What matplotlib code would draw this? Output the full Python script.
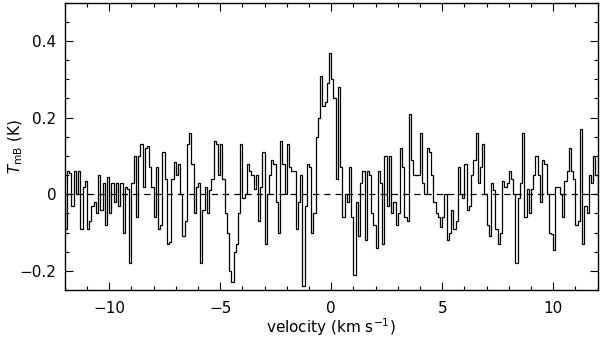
import numpy as np
import matplotlib
matplotlib.use("Agg")
import matplotlib.pyplot as plt
from matplotlib.ticker import MultipleLocator, FuncFormatter

plt.rcParams['font.family'] = ['DejaVu Sans']
plt.rcParams['mathtext.fontset'] = 'dejavusans'

# channel grid (km/s)
v_start = -12.0
v_stop = 12.0
n_chan = 240

# brightness temperature (K), per channel, in four velocity blocks
tmb_block1 = [  # -12.0 .. -6.1
    -0.09, 0.06, 0.055, -0.03, 0.06, 0.0, 0.06, -0.09, 0.02, 0.035,
    -0.09, -0.07, -0.03, -0.02, -0.05, 0.05, -0.04, 0.03, -0.08, 0.045,
    -0.05, 0.03, -0.02, 0.03, -0.03, 0.03, -0.1, 0.02, 0.015, -0.18,
    0.03, 0.10, -0.06, 0.10, 0.13, 0.02, 0.12, 0.125, 0.07, 0.02,
    -0.06, 0.07, -0.09, -0.08, 0.11, 0.04, -0.13, -0.125, 0.04, 0.085,
    0.05, 0.08, 0.0, -0.11, -0.07, 0.13, 0.16, 0.08, -0.05, 0.02,
]
tmb_block2 = [  # -6.0 .. -0.1
    0.03, -0.18, -0.04, 0.02, -0.05, 0.01, 0.04, 0.14, 0.13, 0.05,
    0.13, 0.04, -0.05, -0.10, -0.20, -0.23, -0.15, -0.13, -0.05, 0.13,
    -0.01, 0.0, 0.08, 0.06, 0.05, 0.015, 0.05, -0.07, 0.02, 0.11,
    -0.13, 0.0, 0.05, 0.09, 0.08, -0.02, -0.1, 0.14, 0.08, 0.0,
    0.13, 0.07, 0.06, 0.06, -0.09, -0.02, 0.05, -0.24, -0.03, 0.08,
    0.07, -0.1, -0.05, 0.15, 0.2, 0.31, 0.23, 0.24, 0.29, 0.37,
]
tmb_block3 = [  # 0.0 .. 5.9
    0.30, 0.25, 0.04, 0.28, 0.07, -0.06, 0.0, -0.02, 0.07, -0.06,
    -0.21, -0.02, -0.11, 0.03, 0.06, -0.12, 0.06, 0.05, -0.05, -0.08,
    -0.14, 0.06, 0.03, -0.13, 0.1, -0.03, 0.1, -0.05, -0.02, -0.08,
    -0.05, 0.12, 0.07, -0.06, -0.07, 0.21, 0.09, 0.05, 0.05, 0.05,
    0.16, 0.03, 0.0, 0.12, 0.11, 0.05, -0.02, -0.05, -0.06, -0.085,
    -0.06, 0.0, -0.12, -0.1, -0.04, -0.09, -0.07, 0.07, 0.0, -0.01,
]
tmb_block4 = [  # 6.0 .. 11.9
    0.08, -0.04, -0.03, 0.05, 0.09, 0.16, 0.03, 0.07, 0.13, 0.0,
    -0.08, -0.11, 0.03, 0.01, -0.09, -0.13, -0.1, 0.035, 0.02, 0.03,
    0.06, 0.04, 0.0, -0.18, -0.01, 0.03, 0.16, -0.06, 0.015, -0.05,
    0.015, 0.05, 0.1, 0.05, -0.02, 0.09, 0.08, 0.0, -0.1, -0.105,
    -0.145, 0.02, 0.02, 0.0, -0.06, 0.035, 0.06, 0.12, 0.06, 0.04,
    -0.08, -0.07, 0.17, -0.13, -0.03, -0.05, 0.05, 0.03, 0.1, 0.05,
]

tmb = np.array(tmb_block1 + tmb_block2 + tmb_block3 + tmb_block4)
edges = np.linspace(v_start, v_stop, n_chan + 1)

fig = plt.figure(figsize=(6.0, 3.42), dpi=100)
ax = fig.add_axes([0.108, 0.152, 0.888, 0.840])

ax.stairs(tmb, edges, color='black', linewidth=0.9)
ax.axhline(0, color='black', linestyle=(0, (5, 4)), linewidth=0.9)

ax.set_xlim(-12, 12)
ax.set_ylim(-0.25, 0.5)

ax.xaxis.set_major_locator(MultipleLocator(5))
ax.xaxis.set_minor_locator(MultipleLocator(1))
ax.yaxis.set_major_locator(MultipleLocator(0.2))
ax.yaxis.set_minor_locator(MultipleLocator(0.05))

def fmt(x, pos):
    if abs(x) < 1e-9:
        return '0'
    s = ('%g' % round(x, 3))
    return s.replace('-', '\u2212')

ax.xaxis.set_major_formatter(FuncFormatter(fmt))
ax.yaxis.set_major_formatter(FuncFormatter(fmt))

ax.tick_params(which='both', direction='in', top=True, right=True,
               labelsize=11, width=0.8)
ax.tick_params(which='major', length=6)
ax.tick_params(which='minor', length=3)
ax.tick_params(axis='x', which='major', pad=8)
ax.tick_params(axis='y', which='major', pad=6)
for s in ax.spines.values():
    s.set_linewidth(1.0)

ax.set_xlabel('velocity (km s$^{-1}$)', fontsize=11, labelpad=0)
fig.text(0.026, 0.57, '$T_{\\rm mB}$ (K)', rotation=90, fontsize=11,
         ha='center', va='center')

fig.savefig('out.png', dpi=100)
